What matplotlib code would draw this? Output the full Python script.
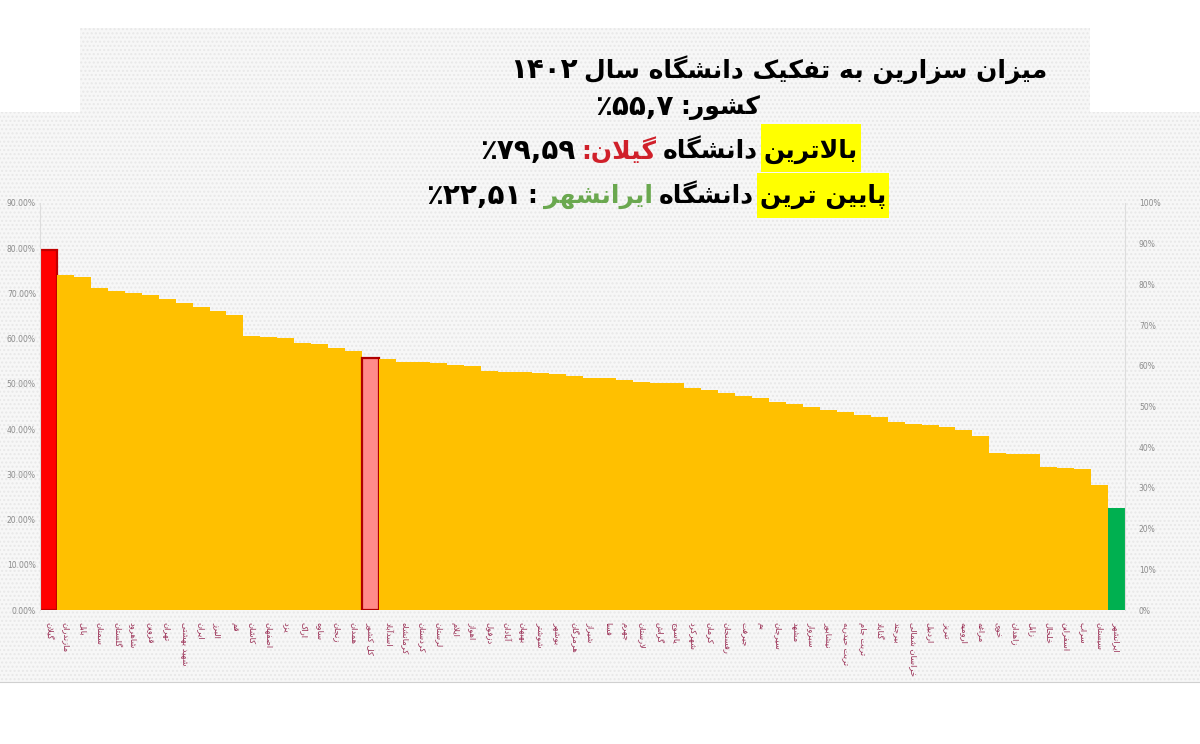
import re
import matplotlib
matplotlib.use("Agg")
import matplotlib.pyplot as plt
from matplotlib.patches import Rectangle

# ---- data -------------------------------------------------------------
names = [
    "گیلان", "مازندران", "بابل", "سمنان", "گلستان", "شاهرود", "قزوین", "تهران",
    "شهید بهشتی", "ایران", "البرز", "قم", "کاشان", "اصفهان", "یزد", "اراک",
    "ساوه", "زنجان", "همدان", "کل کشور", "اسدآباد", "کرمانشاه", "کردستان", "لرستان",
    "ایلام", "اهواز", "دزفول", "آبادان", "بهبهان", "شوشتر", "بوشهر", "هرمزگان",
    "شیراز", "فسا", "جهرم", "لارستان", "گراش", "یاسوج", "شهرکرد", "کرمان",
    "رفسنجان", "جیرفت", "بم", "سیرجان", "مشهد", "سبزوار", "نیشابور", "تربت حیدریه",
    "تربت جام", "گناباد", "بیرجند", "خراسان شمالی", "اردبیل", "تبریز", "ارومیه", "مراغه",
    "خوی", "زاهدان", "زابل", "خلخال", "اسفراین", "سراب", "سیستان", "ایرانشهر",
]
rates = [
    79.59, 74.1, 73.7, 71.2, 70.6, 70.2, 69.6, 68.8,
    67.8, 67.0, 66.2, 65.2, 60.6, 60.4, 60.2, 59.1,
    58.9, 58.0, 57.3, 55.7, 55.5, 54.9, 54.8, 54.6,
    54.2, 53.9, 52.8, 52.7, 52.6, 52.4, 52.2, 51.8,
    51.4, 51.2, 50.9, 50.4, 50.3, 50.1, 49.0, 48.6,
    48.0, 47.4, 46.9, 46.0, 45.5, 45.0, 44.2, 43.8,
    43.2, 42.6, 41.6, 41.2, 40.8, 40.4, 39.8, 38.5,
    34.8, 34.6, 34.4, 31.7, 31.5, 31.2, 27.6, 22.51,
]
left_ticks = [0, 10, 20, 30, 40, 50, 60, 70, 80, 90]
right_ticks = [0, 10, 20, 30, 40, 50, 60, 70, 80, 90, 100]

# ---- minimal persian shaping (no arabic_reshaper in sandbox) ----------
# (isolated, final, initial, medial); None = letter joins only to the right
FORMS = {
    'ا': ('\uFE8D', '\uFE8E', None, None), 'آ': ('\uFE81', '\uFE82', None, None),
    'ب': ('\uFE8F', '\uFE90', '\uFE91', '\uFE92'), 'پ': ('\uFB56', '\uFB57', '\uFB58', '\uFB59'),
    'ت': ('\uFE95', '\uFE96', '\uFE97', '\uFE98'), 'ث': ('\uFE99', '\uFE9A', '\uFE9B', '\uFE9C'),
    'ج': ('\uFE9D', '\uFE9E', '\uFE9F', '\uFEA0'), 'چ': ('\uFB7A', '\uFB7B', '\uFB7C', '\uFB7D'),
    'ح': ('\uFEA1', '\uFEA2', '\uFEA3', '\uFEA4'), 'خ': ('\uFEA5', '\uFEA6', '\uFEA7', '\uFEA8'),
    'د': ('\uFEA9', '\uFEAA', None, None), 'ذ': ('\uFEAB', '\uFEAC', None, None),
    'ر': ('\uFEAD', '\uFEAE', None, None), 'ز': ('\uFEAF', '\uFEB0', None, None),
    'ژ': ('\uFB8A', '\uFB8B', None, None), 'و': ('\uFEED', '\uFEEE', None, None),
    'س': ('\uFEB1', '\uFEB2', '\uFEB3', '\uFEB4'), 'ش': ('\uFEB5', '\uFEB6', '\uFEB7', '\uFEB8'),
    'ص': ('\uFEB9', '\uFEBA', '\uFEBB', '\uFEBC'), 'ض': ('\uFEBD', '\uFEBE', '\uFEBF', '\uFEC0'),
    'ط': ('\uFEC1', '\uFEC2', '\uFEC3', '\uFEC4'), 'ظ': ('\uFEC5', '\uFEC6', '\uFEC7', '\uFEC8'),
    'ع': ('\uFEC9', '\uFECA', '\uFECB', '\uFECC'), 'غ': ('\uFECD', '\uFECE', '\uFECF', '\uFED0'),
    'ف': ('\uFED1', '\uFED2', '\uFED3', '\uFED4'), 'ق': ('\uFED5', '\uFED6', '\uFED7', '\uFED8'),
    'ک': ('\uFB8E', '\uFB8F', '\uFB90', '\uFB91'), 'گ': ('\uFB92', '\uFB93', '\uFB94', '\uFB95'),
    'ل': ('\uFEDD', '\uFEDE', '\uFEDF', '\uFEE0'), 'م': ('\uFEE1', '\uFEE2', '\uFEE3', '\uFEE4'),
    'ن': ('\uFEE5', '\uFEE6', '\uFEE7', '\uFEE8'), 'ه': ('\uFEE9', '\uFEEA', '\uFEEB', '\uFEEC'),
    'ی': ('\uFBFC', '\uFBFD', '\uFBFE', '\uFBFF'),
}


def joins_next(c):
    return c in FORMS and FORMS[c][2] is not None


def shape(s):
    res = []
    i = 0
    while i < len(s):
        c = s[i]
        prev = s[i - 1] if i > 0 else None
        cp = prev is not None and joins_next(prev) and c in FORMS
        if c == 'ل' and i + 1 < len(s) and s[i + 1] == 'ا':
            res.append('\uFEFC' if cp else '\uFEFB')
            i += 2
            continue
        if c not in FORMS:
            res.append(c)
            i += 1
            continue
        nxt = s[i + 1] if i + 1 < len(s) else None
        cn = joins_next(c) and nxt is not None and nxt in FORMS
        iso, fin, ini, med = FORMS[c]
        if cp and cn:
            res.append(med)
        elif cp:
            res.append(fin)
        elif cn:
            res.append(ini)
        else:
            res.append(iso)
        i += 1
    return ''.join(res)


def fa(s):
    # shape, then put in visual (left to right) order; digit runs stay LTR
    parts = re.split(r'([0-9۰-۹][0-9۰-۹,٫.]*)', shape(s))
    out = []
    for p in reversed(parts):
        if p and p[0] in '0123456789۰۱۲۳۴۵۶۷۸۹':
            out.append(p)
        else:
            out.append(p[::-1])
    return ''.join(out)


# ---- figure -----------------------------------------------------------
W, H = 1200, 744
fig = plt.figure(figsize=(12, 7.44), dpi=100, facecolor='white')


def fx(px):
    return px / W


def fy(py):
    return 1 - py / H


# dotted light-grey panels behind the chart and the title
for x0, y0, x1, y1 in [(0, 112, 1200, 682), (80, 28, 1090, 112)]:
    fig.add_artist(Rectangle((fx(x0), fy(y1)), fx(x1) - fx(x0), fy(y0) - fy(y1),
                             transform=fig.transFigure, facecolor='#f7f7f7',
                             edgecolor='#e8e8e8', hatch='....', linewidth=0, zorder=0))

ax = fig.add_axes([fx(40), fy(610), fx(1125) - fx(40), fy(203) - fy(610)])
ax.patch.set_alpha(0)

colors = ['#ffc000'] * len(rates)
edges = ['none'] * len(rates)
colors[0], edges[0] = '#ff0000', '#c00000'
colors[19], edges[19] = '#ff8a8a', '#b00000'
colors[-1], edges[-1] = '#00b050', 'none'
x = list(range(len(rates)))
bars = ax.bar(x, rates, width=1.0, color=colors, edgecolor=edges, linewidth=0)
for i in (0, 19):
    bars[i].set_linewidth(1.6)

ax.set_xlim(-0.5, len(rates) - 0.5)
ax.set_ylim(0, 90)
ax.set_yticks(left_ticks)
ax.set_yticklabels(['%.2f%%' % t for t in left_ticks], fontsize=5.5, color='#8c8c8c')
ax.set_xticks(x)
ax.set_xticklabels([fa(n) for n in names], rotation=270, fontsize=6,
                   color='#9a2f55', family='DejaVu Sans', va='top', ha='center')
ax.tick_params(axis='both', length=0, pad=3)
ax.tick_params(axis='x', pad=9)
for s in ['top', 'bottom']:
    ax.spines[s].set_visible(False)
for s in ['left', 'right']:
    ax.spines[s].set_color('#dddddd')
    ax.spines[s].set_linewidth(0.8)

ax2 = ax.twinx()
ax2.set_ylim(0, 100)
ax2.set_yticks(right_ticks)
ax2.set_yticklabels(['%d%%' % t for t in right_ticks], fontsize=5.5, color='#8c8c8c')
ax2.tick_params(axis='y', length=0, pad=10)
for s in ax2.spines.values():
    s.set_visible(False)

# separator line under the chart
fig.add_artist(plt.Line2D([0, 1], [fy(682), fy(682)], transform=fig.transFigure,
                          color='#d0d0d0', linewidth=0.8))

# ---- title lines (rtl, placed from right to left) ---------------------
renderer = fig.canvas.get_renderer()


def rtl_line(segments, right_px, y_px, box=None):
    xr = right_px
    for text, color, size, hl in segments:
        t = fig.text(fx(xr), fy(y_px), fa(text), ha='right', va='center',
                     fontsize=size, fontweight='bold', color=color,
                     family='DejaVu Sans', zorder=3)
        bb = t.get_window_extent(renderer)
        if hl and box:
            top, bot = box
            fig.add_artist(Rectangle((fx(bb.x0 - 3), fy(bot)), fx(bb.width + 6),
                                     fy(top) - fy(bot), transform=fig.transFigure,
                                     facecolor='#ffff00', edgecolor='none', zorder=2))
        xr = bb.x0 - 6


rtl_line([("میزان سزارین به تفکیک دانشگاه سال", 'black', 18, False),
          ("۱۴۰۲", 'black', 20, False)], 1047, 70)
rtl_line([("کشور:", 'black', 18, False), ("۵۵,۷٪", 'black', 20, False)], 760, 107)
rtl_line([("بالاترین", 'black', 18, True), ("دانشگاه", 'black', 18, False),
          ("گیلان:", '#d0202a', 18, False), ("۷۹,۵۹٪", 'black', 20, False)],
         858, 151, box=(124, 172))
rtl_line([("پایین ترین", 'black', 18, True), ("دانشگاه", 'black', 18, False),
          ("ایرانشهر", '#6aa84f', 18, False), (":", 'black', 18, False),
          ("۲۲,۵۱٪", 'black', 20, False)], 886, 196, box=(173, 218))

fig.savefig('out.png', dpi=100, facecolor='white')
